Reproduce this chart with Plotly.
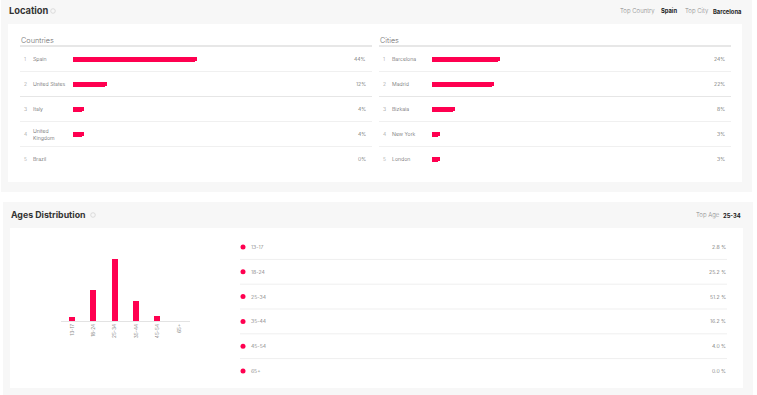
import plotly.graph_objects as go

W, H = 757, 395
PINK = "#FF0050"
FONT = "Inter"

# ---------------- data ----------------
countries = ["Spain", "United States", "Italy", "United Kingdom", "Brazil"]
country_pct = [44, 12, 4, 4, 0]
cities = ["Barcelona", "Madrid", "Bizkaia", "New York", "London"]
city_pct = [24, 22, 8, 3, 3]
age_groups = ["13-17", "18-24", "25-34", "35-44", "45-54", "65+"]
age_pct = [2.8, 25.2, 51.2, 16.2, 4.0, 0.0]
top_country = "Spain"
top_city = "Barcelona"
top_age = "25-34"


def px(x):
    return x / W


def py(y):
    return 1 - y / H


fig = go.Figure()

# location bars
fig.add_trace(go.Bar(x=country_pct, y=list(range(len(countries))), orientation="h",
                     width=0.2, marker=dict(color=PINK, cornerradius="50%", line_width=0),
                     xaxis="x", yaxis="y", hoverinfo="skip"))
fig.add_trace(go.Bar(x=city_pct, y=list(range(len(cities))), orientation="h",
                     width=0.2, marker=dict(color=PINK, cornerradius="50%", line_width=0),
                     xaxis="x2", yaxis="y2", hoverinfo="skip"))
# ages column chart
fig.add_trace(go.Bar(x=age_groups, y=age_pct, width=0.28,
                     marker=dict(color=PINK, line_width=0),
                     xaxis="x3", yaxis="y3", hoverinfo="skip"))
# ages list dots
fig.add_trace(go.Scatter(x=[0] * len(age_groups), y=list(range(len(age_groups))), mode="markers",
                         marker=dict(color=PINK, size=5), xaxis="x4", yaxis="y4",
                         hoverinfo="skip", cliponaxis=False))

shapes = []
ann = []

# panels / cards
shapes += [
    dict(type="rect", xref="paper", yref="paper", x0=px(1), x1=px(752), y0=py(192), y1=py(0),
         fillcolor="#f7f7f7", line_width=0, layer="below"),
    dict(type="rect", xref="paper", yref="paper", x0=px(8), x1=px(742), y0=py(182), y1=py(24),
         fillcolor="#ffffff", line_width=0, layer="below"),
    dict(type="rect", xref="paper", yref="paper", x0=px(3), x1=px(753), y0=py(395), y1=py(202),
         fillcolor="#f7f7f7", line_width=0, layer="below"),
    dict(type="rect", xref="paper", yref="paper", x0=px(10), x1=px(743), y0=py(388), y1=py(228),
         fillcolor="#ffffff", line_width=0, layer="below"),
]

# titles
ann.append(dict(text="<b>Location</b>", x=px(7), y=py(10.5), xref="paper", yref="paper",
                xanchor="left", yanchor="middle", showarrow=False,
                font=dict(family=FONT, size=9.3, color="#333333")))
ann.append(dict(text="<b>Ages Distribution</b>", x=px(9), y=py(214.5), xref="paper", yref="paper",
                xanchor="left", yanchor="middle", showarrow=False,
                font=dict(family=FONT, size=8.8, color="#333333")))
for cx, cy in [(53, 11), (93, 215)]:
    shapes.append(dict(type="circle", xref="paper", yref="paper", x0=px(cx - 2.3), x1=px(cx + 2.3),
                       y0=py(cy + 2.3), y1=py(cy - 2.3), line=dict(color="#d0d0d0", width=0.7)))


def txt(t, x, y, size, color, anchor="left", bold=False, yref="paper", weight=None):
    f = dict(family=FONT, size=size, color=color)
    if weight:
        f["weight"] = weight
    ann.append(dict(text=f"<b>{t}</b>" if bold else t, x=px(x), y=y if yref != "paper" else py(y),
                    xref="paper", yref=yref, xanchor=anchor, yanchor="middle", showarrow=False,
                    align="left", font=f))


# top-right summaries
txt("Top Country", 657, 11, 6, "#8a8a8a", anchor="right", weight=300)
txt(top_country, 679, 11, 5.8, "#222222", anchor="right", bold=True)
txt("Top City", 711, 11, 6, "#8a8a8a", anchor="right", weight=300)
txt(top_city, 743, 11, 5.8, "#222222", anchor="right", bold=True)
txt("Top Age", 722, 215, 6, "#8a8a8a", anchor="right", weight=300)
txt(top_age, 743, 215, 5.8, "#222222", anchor="right", bold=True)

# column headers + lines
for label, x0, x1, yax in [("Countries", 20, 372, "y"), ("Cities", 379, 731, "y2")]:
    txt(label, x0 - 1, 40.5, 7.3, "#6f6f6f", weight=300)
    shapes.append(dict(type="line", xref="paper", yref="paper", x0=px(x0), x1=px(x1),
                       y0=py(46), y1=py(46), line=dict(color="#cfcfcf", width=1)))
    for i in range(4):
        shapes.append(dict(type="line", xref="paper", yref=yax, x0=px(x0), x1=px(x1),
                           y0=i + 0.5, y1=i + 0.5,
                           line=dict(color="#e6e6e6" if i == 1 else "#f0f0f0", width=1)))

# row labels
for i, (n, v) in enumerate(zip(countries, country_pct)):
    txt(str(i + 1), 25, i, 5, "#9a9a9a", anchor="center", yref="y", weight=300)
    txt(n.replace("United Kingdom", "United<br>Kingdom"), 31, i, 5.2, "#5e5e5e", yref="y", weight=300)
    txt(f"{v}%", 368, i, 5.2, "#5e5e5e", anchor="right", yref="y", weight=300)
for i, (n, v) in enumerate(zip(cities, city_pct)):
    txt(str(i + 1), 384, i, 5, "#9a9a9a", anchor="center", yref="y2", weight=300)
    txt(n, 390, i, 5.2, "#5e5e5e", yref="y2", weight=300)
    txt(f"{v}%", 727, i, 5.2, "#5e5e5e", anchor="right", yref="y2", weight=300)

# ages list
for i, (g, v) in enumerate(zip(age_groups, age_pct)):
    txt(g, 249, i, 5.2, "#707070", yref="y4", weight=300)
    txt(f"{v:.1f} %", 728, i, 5.2, "#5e5e5e", anchor="right", yref="y4", weight=300)
    if i < len(age_groups) - 1:
        shapes.append(dict(type="line", xref="paper", yref="y4", x0=px(240), x1=px(727),
                           y0=i + 0.5, y1=i + 0.5, line=dict(color="#efefef", width=1)))

row_dom = [py(171.5), py(46.5)]
fig.update_layout(
    width=W, height=H, margin=dict(l=0, r=0, t=0, b=0),
    paper_bgcolor="#ffffff", plot_bgcolor="rgba(0,0,0,0)",
    showlegend=False, bargap=0,
    xaxis=dict(domain=[px(73), px(355)], range=[0, 100], visible=False, anchor="y", fixedrange=True),
    yaxis=dict(domain=row_dom, range=[4.5, -0.5], visible=False, anchor="x", fixedrange=True),
    xaxis2=dict(domain=[px(432), px(714)], range=[0, 100], visible=False, anchor="y2", fixedrange=True),
    yaxis2=dict(domain=row_dom, range=[4.5, -0.5], visible=False, anchor="x2", fixedrange=True),
    xaxis3=dict(domain=[px(61.3), px(189.7)], type="category", range=[-0.5, 5.5], anchor="y3",
                showline=True, linecolor="#e3e3e3", linewidth=1, showgrid=False, zeroline=False,
                ticks="", tickangle=-90, tickfont=dict(family=FONT, size=4.8, color="#8a8a8a"),
                fixedrange=True),
    yaxis3=dict(domain=[py(321), py(321 - 72.6)], range=[0, 60], visible=False, anchor="x3",
                fixedrange=True),
    xaxis4=dict(domain=[px(243), px(727)], range=[0, 1], visible=False, anchor="y4", fixedrange=True),
    yaxis4=dict(domain=[py(383.4), py(234.6)], range=[5.5, -0.5], visible=False, anchor="x4",
                fixedrange=True),
    shapes=shapes, annotations=ann,
)

fig.write_html("out.html", config={"displayModeBar": False})
